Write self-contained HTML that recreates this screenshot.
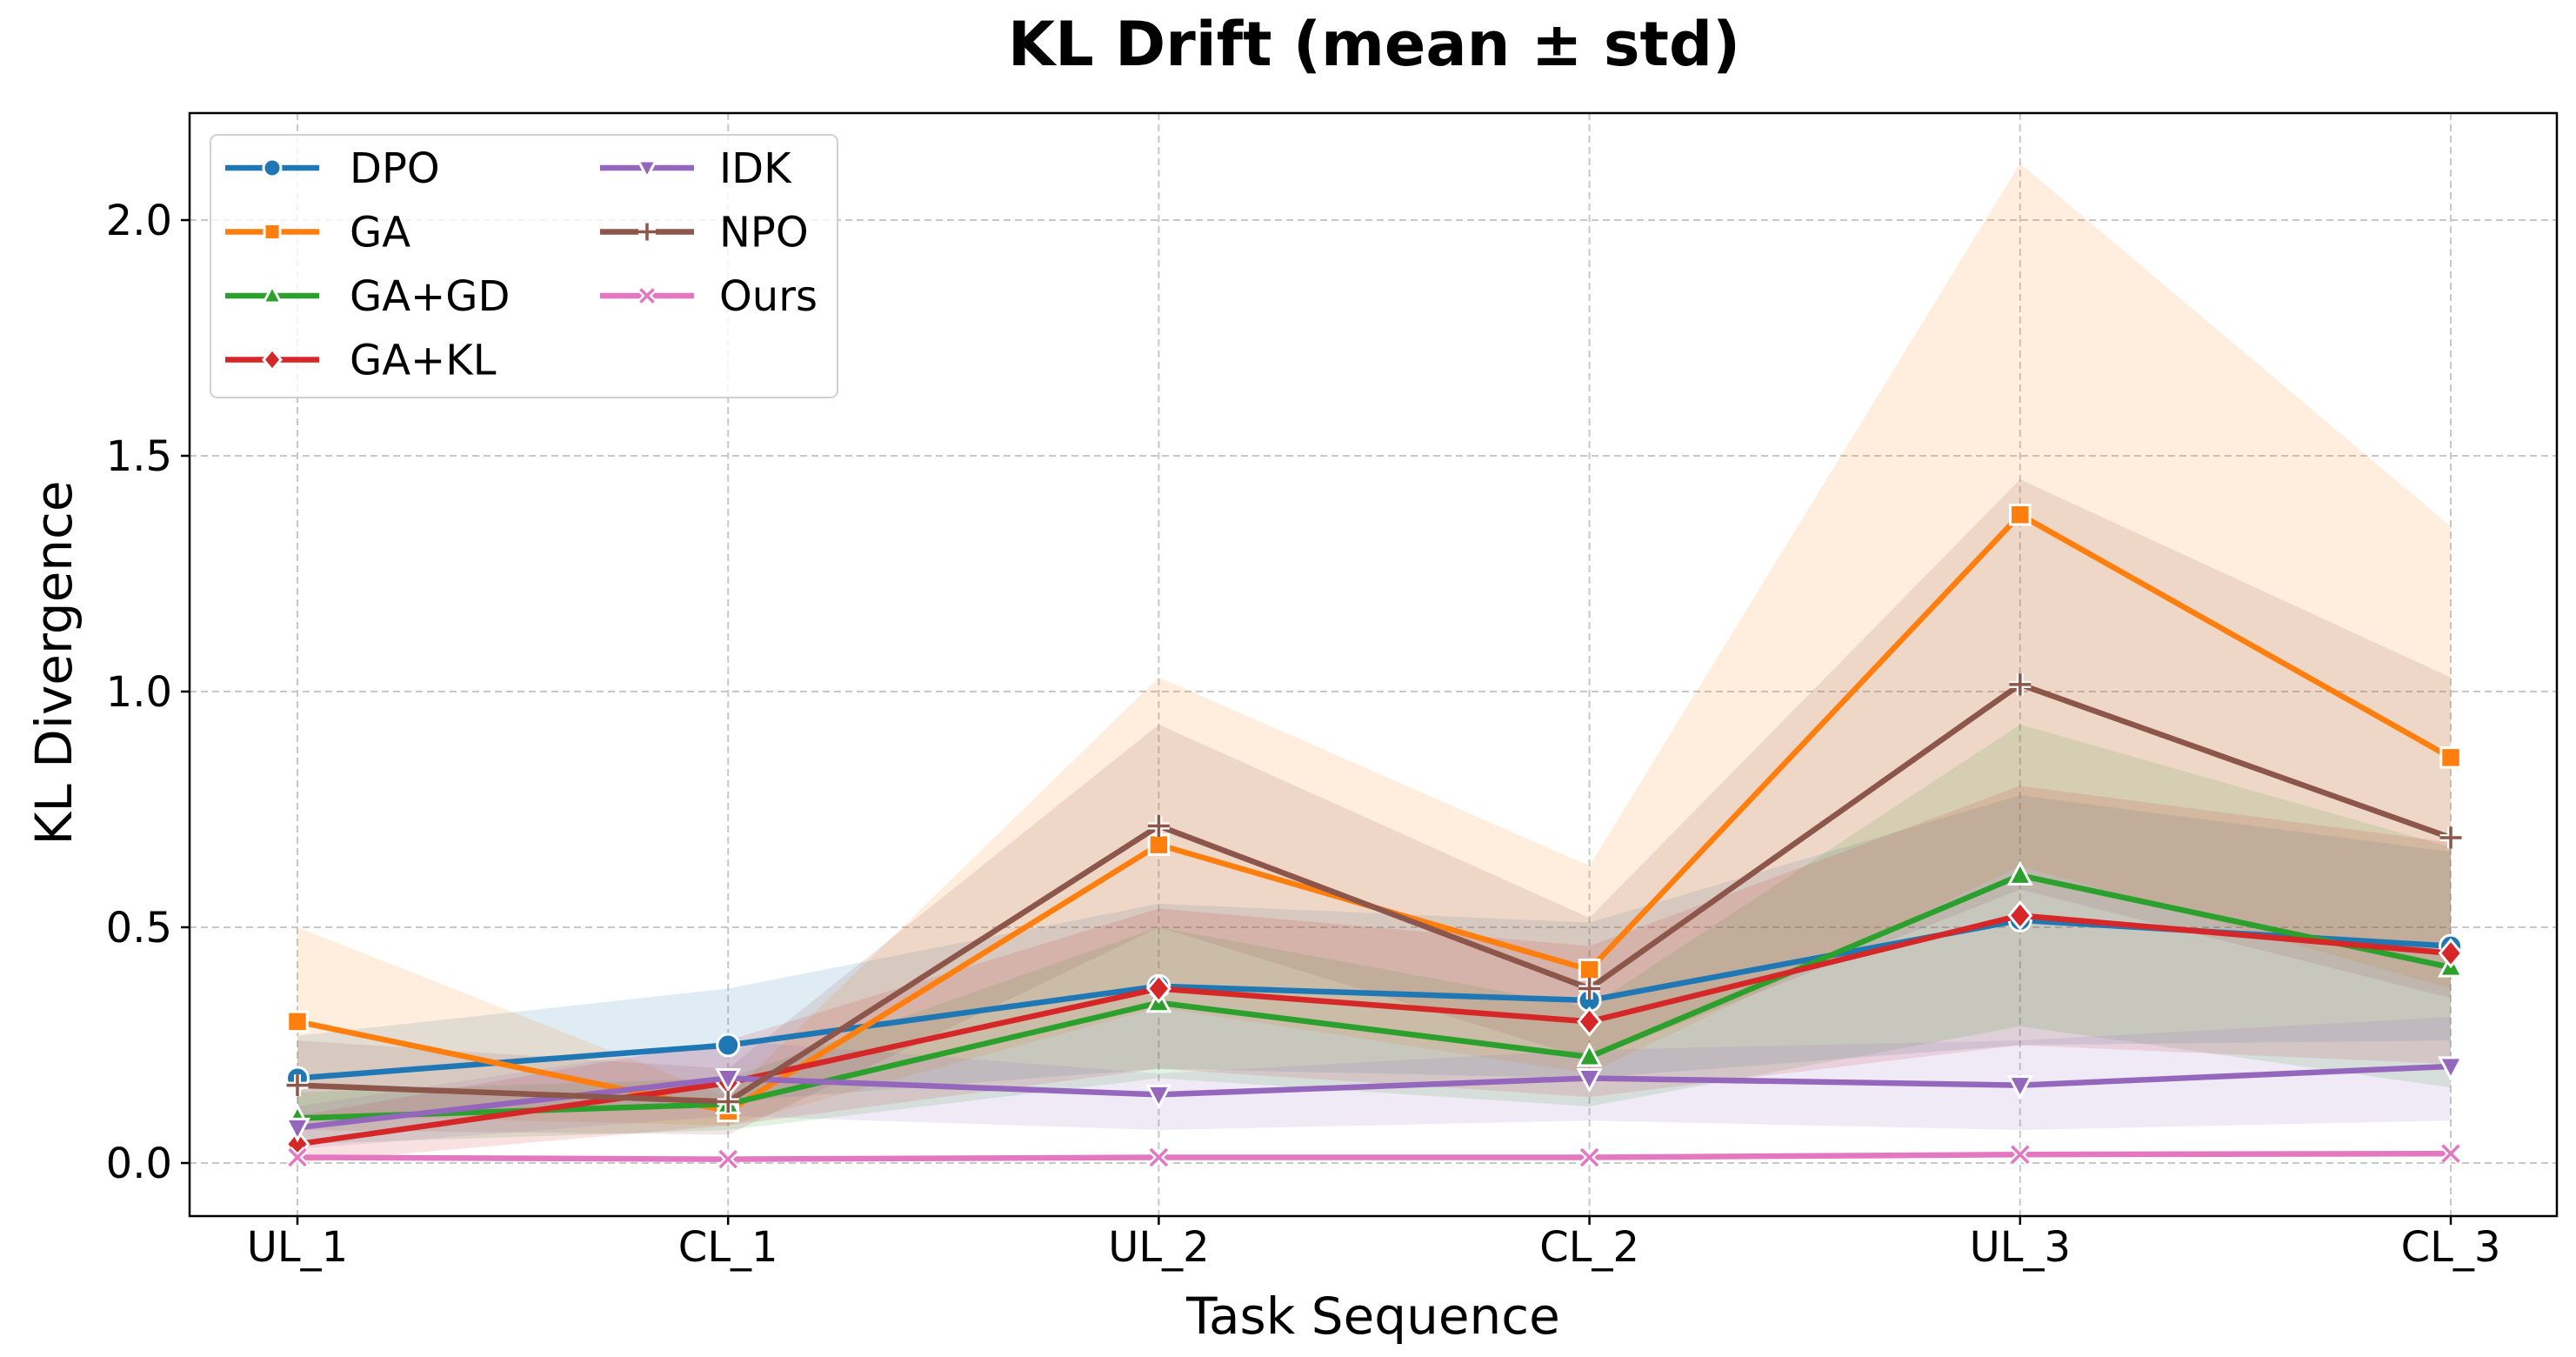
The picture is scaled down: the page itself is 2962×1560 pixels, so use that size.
<!DOCTYPE html>
<html><head><meta charset="utf-8"><style>
html,body{margin:0;padding:0;background:#fff}
svg{display:block}
text{font-family:"DejaVu Sans","Liberation Sans",sans-serif}
</style></head><body>
<svg id="chart" width="2962" height="1560" viewBox="0 0 2962 1560" xmlns="http://www.w3.org/2000/svg">
<text x="1580" y="75" text-anchor="middle" font-size="70" font-weight="bold">KL Drift (mean ± std)</text>
<g id="grid"></g>
<g id="bands"></g>
<g id="lines"></g>
<rect x="218" y="130" width="2722" height="1268" fill="none" stroke="#000" stroke-width="2.5"/>
<g id="ticks"></g>
<text transform="translate(82,762) rotate(-90)" text-anchor="middle" font-size="58">KL Divergence</text>
<text x="1579" y="1533" text-anchor="middle" font-size="58">Task Sequence</text>
<g id="legend"></g>
</svg>
<script>
const categories = ["UL_1","CL_1","UL_2","CL_2","UL_3","CL_3"];
const seriesNames = ["DPO","GA","GA+GD","GA+KL","IDK","NPO","Ours"];
const yTicks = [0.0,0.5,1.0,1.5,2.0];
const dpoMean = [0.18,0.25,0.375,0.345,0.515,0.46];
const gaMean = [0.30,0.11,0.675,0.41,1.375,0.86];
const gagdMean = [0.095,0.125,0.34,0.225,0.61,0.415];
const gaklMean = [0.04,0.17,0.37,0.30,0.525,0.445];
const idkMean = [0.075,0.18,0.145,0.18,0.165,0.205];
const npoMean = [0.165,0.13,0.715,0.37,1.015,0.69];
const oursMean = [0.012,0.008,0.012,0.012,0.018,0.02];
const dpoLo = [0.09,0.13,0.20,0.18,0.25,0.26];
const dpoHi = [0.27,0.37,0.55,0.51,0.78,0.66];
const gaLo = [0.10,0.08,0.33,0.19,0.63,0.37];
const gaHi = [0.50,0.14,1.03,0.63,2.12,1.35];
const gagdLo = [0.04,0.07,0.18,0.12,0.29,0.16];
const gagdHi = [0.15,0.18,0.50,0.33,0.93,0.67];
const gaklLo = [0.0,0.08,0.20,0.14,0.25,0.21];
const gaklHi = [0.10,0.26,0.54,0.46,0.80,0.68];
const idkLo = [0.03,0.10,0.07,0.09,0.07,0.09];
const idkHi = [0.12,0.26,0.19,0.24,0.26,0.31];
const npoLo = [0.07,0.06,0.50,0.22,0.58,0.35];
const npoHi = [0.26,0.20,0.93,0.52,1.45,1.03];
const oursLo = [0.007,0.003,0.007,0.007,0.012,0.014];
const oursHi = [0.017,0.013,0.017,0.017,0.024,0.026];

const NS="http://www.w3.org/2000/svg";
const X0=218,X1=2940,Y0=130,Y1=1398;
function xPos(i){return 342+i*(2818-342)/(categories.length-1);}
function yPos(v){return 1337-v*(1337-253)/2.0;}
function mk(tag,attrs,parent){const e=document.createElementNS(NS,tag);for(const k in attrs)e.setAttribute(k,attrs[k]);parent.appendChild(e);return e;}

const colors=["#1f77b4","#ff7f0e","#2ca02c","#d62728","#9467bd","#8c564b","#e377c2"];
const markers=["o","s","^","D","v","+","x"];
const means=[dpoMean,gaMean,gagdMean,gaklMean,idkMean,npoMean,oursMean];
const los=[dpoLo,gaLo,gagdLo,gaklLo,idkLo,npoLo,oursLo];
const his=[dpoHi,gaHi,gagdHi,gaklHi,idkHi,npoHi,oursHi];

const grid=document.getElementById('grid'),ticks=document.getElementById('ticks');
yTicks.forEach(t=>{
  const y=yPos(t);
  const l=mk('line',{x1:X0,x2:X1,y1:y,y2:y,stroke:'#c8c8c8','stroke-width':2,'stroke-dasharray':'8,5'},grid);
  
  
  const tk=mk('line',{x1:X0-10,x2:X0,y1:y,y2:y,stroke:'#000','stroke-width':2.5},ticks);
  
  
  const tx=mk('text',{x:X0-20,y:y+17,'text-anchor':'end','font-size':48},ticks);
  tx.textContent=t.toFixed(1);
  
  
});
categories.forEach((c,i)=>{
  const x=xPos(i);
  const l=mk('line',{x1:x,x2:x,y1:Y0,y2:Y1,stroke:'#c8c8c8','stroke-width':2,'stroke-dasharray':'8,5'},grid);
  
  
  const tk=mk('line',{x1:x,x2:x,y1:Y1,y2:Y1+10,stroke:'#000','stroke-width':2.5},ticks);
  
  
  const tx=mk('text',{x:x,y:Y1+52,'text-anchor':'middle','font-size':48},ticks);
  tx.textContent=c;
  
  
});

function drawMarker(g,type,x,y,col,s){
  let e;
  const W='#fff';
  if(type==='o'){e=mk('circle',{cx:x,cy:y,r:s*0.5,fill:col,stroke:W,'stroke-width':3},g);}
  else if(type==='s'){e=mk('rect',{x:x-s*0.45,y:y-s*0.45,width:s*0.9,height:s*0.9,fill:col,stroke:W,'stroke-width':3},g);}
  else if(type==='^'){e=mk('polygon',{points:`${x},${y-s*0.55} ${x-s*0.5},${y+s*0.4} ${x+s*0.5},${y+s*0.4}`,fill:col,stroke:W,'stroke-width':3},g);}
  else if(type==='v'){e=mk('polygon',{points:`${x},${y+s*0.55} ${x-s*0.5},${y-s*0.4} ${x+s*0.5},${y-s*0.4}`,fill:col,stroke:W,'stroke-width':3},g);}
  else if(type==='D'){e=mk('polygon',{points:`${x},${y-s*0.6} ${x+s*0.5},${y} ${x},${y+s*0.6} ${x-s*0.5},${y}`,fill:col,stroke:W,'stroke-width':3},g);}
  else if(type==='+'){const d=s*0.5;e=mk('path',{d:`M${x-d},${y}H${x+d}M${x},${y-d}V${y+d}`,stroke:W,'stroke-width':8,fill:'none'},g);mk('path',{d:`M${x-d},${y}H${x+d}M${x},${y-d}V${y+d}`,stroke:col,'stroke-width':3.5,fill:'none'},g);}
  else {const d=s*0.38;e=mk('path',{d:`M${x-d},${y-d}L${x+d},${y+d}M${x-d},${y+d}L${x+d},${y-d}`,stroke:W,'stroke-width':8,fill:'none'},g);mk('path',{d:`M${x-d},${y-d}L${x+d},${y+d}M${x-d},${y+d}L${x+d},${y-d}`,stroke:col,'stroke-width':3.5,fill:'none'},g);}
  return e;
}

const bands=document.getElementById('bands'),lines=document.getElementById('lines');
seriesNames.forEach((n,k)=>{
  const key=n.toLowerCase().replace('+','-');
  let pts=his[k].map((v,i)=>xPos(i)+','+yPos(v));
  pts=pts.concat(los[k].map((v,i)=>xPos(i)+','+yPos(v)).reverse());
  const b=mk('polygon',{points:pts.join(' '),fill:colors[k],'fill-opacity':0.14},bands);
  
  
});
seriesNames.forEach((n,k)=>{
  const key=n.toLowerCase().replace('+','-');
  const g=mk('g',{},lines);
  
  
  const p=mk('polyline',{points:means[k].map((v,i)=>xPos(i)+','+yPos(v)).join(' '),fill:'none',stroke:colors[k],'stroke-width':6.5,'stroke-linejoin':'round'},g);
  
  
  means[k].forEach((v,i)=>{
    const m=drawMarker(g,markers[k],xPos(i),yPos(v),colors[k],25);
    
    
  });
});

const leg=document.getElementById('legend');
const box=mk('rect',{x:242,y:155,width:721,height:302,rx:8,fill:'#fff','fill-opacity':0.8,stroke:'#d0d0d0','stroke-width':2},leg);


seriesNames.forEach((n,k)=>{
  const col=k<4?0:1,row=k<4?k:k-4;
  const hx=col?690:259,tx=col?827:402,y=193+row*73.5;
  const g=mk('g',{},leg);
  
  
  mk('line',{x1:hx,x2:hx+108,y1:y,y2:y,stroke:colors[k],'stroke-width':6.5},g);
  drawMarker(g,markers[k],hx+54,y,colors[k],20);
  const t=mk('text',{x:tx,y:y+17,'font-size':48},g);
  t.textContent=n;
});
</script>
</body></html>
